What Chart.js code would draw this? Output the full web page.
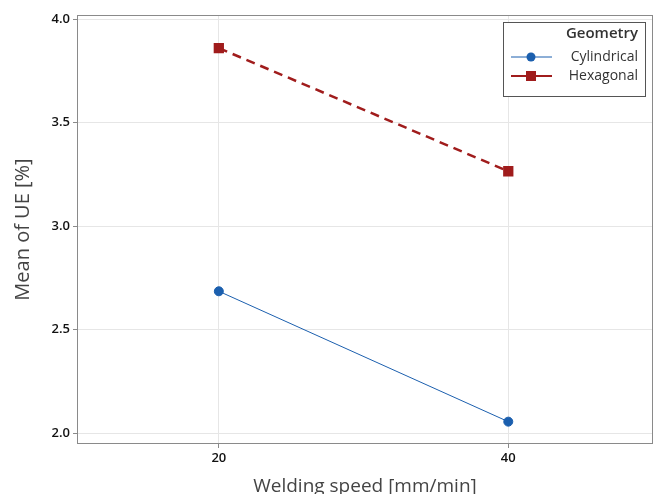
<!DOCTYPE html>
<html>
<head>
<meta charset="utf-8">
<script src="https://cdn.jsdelivr.net/npm/chart.js@4.4.1/dist/chart.umd.min.js"></script>
<style>
  html, body { margin: 0; padding: 0; background: #fff; overflow: hidden; }
  #wrap { width: 657px; height: 494px; }
  canvas { display: block; }
</style>
</head>
<body>
<div id="wrap"><canvas id="chart" width="657" height="494"></canvas></div>
<script>
// data
const speeds = [20, 40];
const cylindrical = [2.685, 2.055];
const hexagonal = [3.86, 3.265];
const yTicks = [2.0, 2.5, 3.0, 3.5, 4.0];
const xTicks = [20, 40];

const BLUE = '#1b5fae';
const RED = '#a01c1c';
const FONT = "'Open Sans', 'Noto Sans', sans-serif";

// plot frame + legend box drawn after datasets
const framePlugin = {
  id: 'frame',
  afterDraw(chart) {
    const ctx = chart.ctx;
    const a = chart.chartArea;
    ctx.save();
    ctx.strokeStyle = '#8a8a8a';
    ctx.lineWidth = 1;
    ctx.strokeRect(Math.round(a.left) + 0.5, Math.round(a.top) + 0.5,
      Math.round(a.right - a.left) - 1, Math.round(a.bottom - a.top) - 1);

    // legend
    const bx = 503, by = 22, bw = 142, bh = 74;
    ctx.fillStyle = '#fff';
    ctx.fillRect(bx, by, bw, bh);
    ctx.strokeStyle = '#555';
    ctx.strokeRect(bx + 0.5, by + 0.5, bw, bh);
    ctx.fillStyle = '#333';
    ctx.textAlign = 'right';
    ctx.textBaseline = 'middle';
    ctx.font = '600 15px ' + FONT;
    ctx.fillText('Geometry', 638, 34);
    ctx.font = '14px ' + FONT;
    chart.data.datasets.forEach((ds, i) => {
      const y = 57 + i * 19;
      ctx.strokeStyle = ds.borderColor;
      ctx.lineWidth = i === 0 ? 1 : 2;
      ctx.setLineDash([]);
      ctx.beginPath();
      ctx.moveTo(511, y);
      ctx.lineTo(552, y);
      ctx.stroke();
      ctx.fillStyle = ds.pointBackgroundColor;
      if (ds.pointStyle === 'rect') {
        ctx.fillRect(526, y - 5, 10, 10);
      } else {
        ctx.beginPath();
        ctx.arc(531, y, 4.5, 0, Math.PI * 2);
        ctx.fill();
      }
      ctx.fillStyle = '#333';
      ctx.fillText(ds.label, 638, y);
    });
    ctx.restore();
  }
};

new Chart(document.getElementById('chart'), {
  type: 'line',
  data: {
    datasets: [
      {
        label: 'Cylindrical',
        data: speeds.map((s, i) => ({ x: s, y: cylindrical[i] })),
        borderColor: BLUE,
        backgroundColor: BLUE,
        pointBackgroundColor: BLUE,
        pointBorderColor: BLUE,
        borderWidth: 1,
        pointStyle: 'circle',
        pointRadius: 4.5,
        pointHoverRadius: 4.5
      },
      {
        label: 'Hexagonal',
        data: speeds.map((s, i) => ({ x: s, y: hexagonal[i] })),
        borderColor: RED,
        backgroundColor: RED,
        pointBackgroundColor: RED,
        pointBorderColor: RED,
        borderWidth: 2.5,
        borderDash: [9, 6],
        pointStyle: 'rect',
        pointRadius: 5.5,
        pointHoverRadius: 5.5
      }
    ]
  },
  options: {
    responsive: false,
    animation: false,
    layout: { autoPadding: false, padding: { top: 15, right: 4, left: 0, bottom: 0 } },
    plugins: { legend: { display: false }, tooltip: { enabled: false } },
    scales: {
      x: {
        type: 'linear',
        min: 10.2,
        max: 50,
        afterBuildTicks(scale) { scale.ticks = xTicks.map(v => ({ value: v })); },
        afterFit(scale) { scale.height = 50; scale.paddingLeft = 0; scale.paddingRight = 0; },
        grid: { color: '#e6e6e6', tickColor: '#8a8a8a', tickLength: 4 },
        border: { display: false },
        ticks: { color: '#111', font: { family: FONT, size: 13, weight: '600' }, padding: 2 },
        title: {
          display: true,
          text: 'Welding speed [mm/min]',
          color: '#444',
          font: { family: FONT, size: 19 },
          padding: { top: 0, bottom: -4 }
        }
      },
      y: {
        min: 1.947,
        max: 4.02,
        afterBuildTicks(scale) { scale.ticks = yTicks.map(v => ({ value: v })); },
        afterFit(scale) { scale.width = 77; scale.paddingTop = 0; scale.paddingBottom = 0; },
        grid: { color: '#e6e6e6', tickColor: '#8a8a8a', tickLength: 4 },
        border: { display: false },
        ticks: {
          color: '#111',
          font: { family: FONT, size: 13, weight: '600' },
          padding: 3,
          callback: v => v.toFixed(1)
        },
        title: {
          display: true,
          text: 'Mean of UE [%]',
          color: '#444',
          font: { family: FONT, size: 20 },
          padding: { top: 11, bottom: 0 }
        }
      }
    }
  },
  plugins: [framePlugin]
});
</script>
</body>
</html>
